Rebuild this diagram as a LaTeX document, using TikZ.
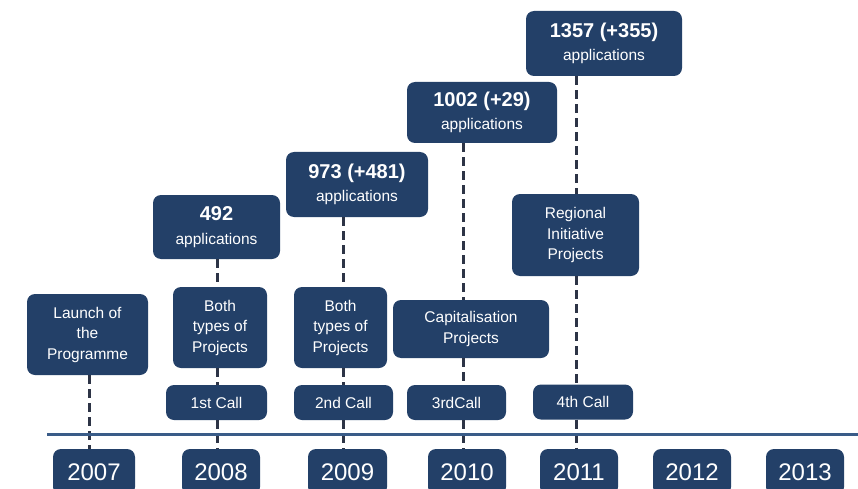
\documentclass[tikz,border=0pt]{standalone}
\usepackage{fontspec}
\setmainfont{Liberation Sans}
\definecolor{navy}{RGB}{35,64,104}
\definecolor{dashc}{RGB}{45,52,70}
\definecolor{tline}{RGB}{58,92,136}
\begin{document}
\begin{tikzpicture}[x=1pt,y=-1pt,
  box/.style={fill=navy, rounded corners=8pt, text=white, align=center, inner sep=0pt,
    font=\fontsize{15.5}{20.5}\selectfont},
  yearbox/.style={box, minimum width=78pt, minimum height=46pt, font=\fontsize{24}{28}\selectfont},
  callbox/.style={box, minimum height=35pt},
  appbox/.style={box},
  conn/.style={draw=dashc, line width=3pt, dash pattern=on 9pt off 5pt}]
\useasboundingbox (0,0) rectangle (858,489);
% timeline
\coordinate (tl) at (47,434);
\coordinate (tr) at (858,434);
% dashed line x positions
\coordinate (l07) at (89,0);
\coordinate (l08) at (217,0);
\coordinate (l09) at (343,0);
\coordinate (l10) at (463,0);
\coordinate (l11) at (576,0);
% years
\node[yearbox, minimum width=82pt] (y2007) at (94,472) {2007};
\node[yearbox] (y2008) at (221,472) {2008};
\node[yearbox, minimum width=79pt] (y2009) at (347.5,472) {2009};
\node[yearbox] (y2010) at (467,472) {2010};
\node[yearbox] (y2011) at (579,472) {2011};
\node[yearbox] (y2012) at (692,472) {2012};
\node[yearbox] (y2013) at (805,472) {2013};
% 2007
\node[box, minimum width=121pt, minimum height=81pt] (launch) at (87.5,334.5) {Launch of\\the\\Programme};
% 2008
\node[appbox, minimum width=127pt, minimum height=64pt] (app492) at (216.5,227)
  {{\fontsize{20}{23}\selectfont\bfseries 492}\\[4pt]applications};
\node[box, minimum width=94pt, minimum height=81pt] (both08) at (220,327.5) {Both\\types of\\Projects};
\node[callbox, minimum width=101pt] (call1) at (216.5,402.5) {1st Call};
% 2009
\node[appbox, minimum width=142pt, minimum height=65pt] (app973) at (357,184.5)
  {{\fontsize{20}{23}\selectfont\bfseries 973 (+481)}\\[3pt]applications};
\node[box, minimum width=93pt, minimum height=81pt] (both09) at (340.5,327.5) {Both\\types of\\Projects};
\node[callbox, minimum width=99pt] (call2) at (343.5,402.5) {2nd Call};
% 2010
\node[appbox, minimum width=150pt, minimum height=61pt] (app1002) at (482,112.5)
  {{\fontsize{20}{23}\selectfont\bfseries 1002 (+29)}\\[3pt]applications};
\node[box, minimum width=156pt, minimum height=58pt] (cap) at (471,329) {Capitalisation\\Projects};
\node[callbox, minimum width=99pt] (call3) at (456.5,402.5) {3rdCall};
% 2011
\node[appbox, minimum width=156pt, minimum height=65pt] (app1357) at (604,43.5)
  {{\fontsize{20}{23}\selectfont\bfseries 1357 (+355)}\\[3pt]applications};
\node[box, minimum width=127pt, minimum height=82pt] (reg) at (575.5,235) {Regional\\Initiative\\Projects};
\node[callbox, minimum width=100pt] (call4) at (583,402) {4th Call};
% connectors
\draw[conn] (launch.south -| l07) -- (y2007.north -| l07);
\draw[conn] (app492.south -| l08) -- (both08.north -| l08);
\draw[conn] (both08.south -| l08) -- (call1.north -| l08);
\draw[conn] (call1.south -| l08) -- (y2008.north -| l08);
\draw[conn] (app973.south -| l09) -- (both09.north -| l09);
\draw[conn] (both09.south -| l09) -- (call2.north -| l09);
\draw[conn] (call2.south -| l09) -- (y2009.north -| l09);
\draw[conn] (app1002.south -| l10) -- (cap.north -| l10);
\draw[conn] (cap.south -| l10) -- (call3.north -| l10);
\draw[conn] (call3.south -| l10) -- (y2010.north -| l10);
\draw[conn] (app1357.south -| l11) -- (reg.north -| l11);
\draw[conn] (reg.south -| l11) -- (call4.north -| l11);
\draw[conn] (call4.south -| l11) -- (y2011.north -| l11);
% timeline
\draw[draw=tline, line width=3pt] (tl) -- (tr);
\end{tikzpicture}
\end{document}
